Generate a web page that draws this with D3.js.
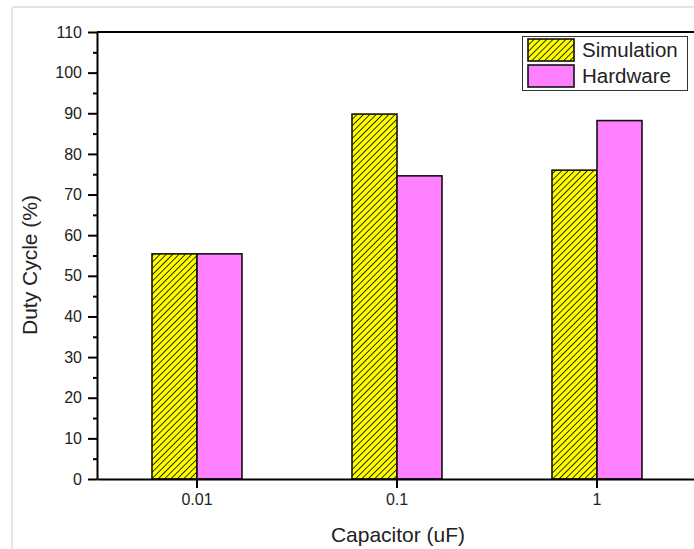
<!DOCTYPE html>
<html>
<head>
<meta charset="utf-8">
<script src="https://cdn.jsdelivr.net/npm/d3@7"></script>
<style>
  body { margin: 0; background: #fff; }
  svg { display: block; font-family: Arial, "Liberation Sans", sans-serif; }
</style>
</head>
<body>
<svg id="chart"></svg>
<script>
// chart data
var categories = ['0.01', '0.1', '1'];
var seriesNames = ['Simulation', 'Hardware'];
var simulation = [55.4, 89.8, 76.0];
var hardware = [55.4, 74.6, 88.2];
var yTicks = [0, 10, 20, 30, 40, 50, 60, 70, 80, 90, 100, 110];

(function () {
    var width = 694, height = 549;
    var left = 97, top = 32, right = 697, bottom = 479;
    var font = 'Arial, "Liberation Sans", sans-serif';

    var svg = d3.select('#chart')
        .attr('width', width)
        .attr('height', height);

    var defs = svg.append('defs');
    var hatch = defs.append('pattern')
        .attr('id', 'hatch')
        .attr('patternUnits', 'userSpaceOnUse')
        .attr('width', 4.5)
        .attr('height', 4.5)
        .attr('patternTransform', 'rotate(45)');
    hatch.append('rect').attr('width', 4.5).attr('height', 4.5).attr('fill', '#ffff00');
    hatch.append('line')
        .attr('x1', 0).attr('y1', 0).attr('x2', 0).attr('y2', 4.5)
        .attr('stroke', '#000').attr('stroke-width', 1.6);

    // light frame around the picture
    svg.append('line').attr('x1', 12).attr('y1', 7).attr('x2', width).attr('y2', 7)
        .attr('stroke', '#e4e4e4').attr('stroke-width', 2);
    svg.append('line').attr('x1', 12).attr('y1', 7).attr('x2', 12).attr('y2', height)
        .attr('stroke', '#e4e4e4').attr('stroke-width', 2);

    var x = d3.scaleBand().domain(categories).range([left, right]);
    var y = d3.scaleLinear().domain([0, 110]).range([bottom, top]);
    var barW = 45;

    var rows = categories.map(function (c, i) {
        return { cat: c, values: [simulation[i], hardware[i]] };
    });
    var fills = ['url(#hatch)', '#ff80ff'];

    var groups = svg.selectAll('.cat')
        .data(rows)
        .enter().append('g')
            .attr('class', 'cat');

    groups.selectAll('rect')
        .data(function (d) { return d.values.map(function (v, j) { return { cat: d.cat, v: v, j: j }; }); })
        .enter().append('rect')
            .attr('x', function (d) { return x(d.cat) + x.bandwidth() / 2 + (d.j - 1) * barW; })
            .attr('y', function (d) { return y(d.v); })
            .attr('width', barW)
            .attr('height', function (d) { return y(0) - y(d.v); })
            .attr('fill', function (d) { return fills[d.j]; })
            .attr('stroke', '#111')
            .attr('stroke-width', 1.6);

    // y axis with minor ticks
    var minor = d3.range(5, 110, 10);
    svg.append('g')
        .attr('transform', 'translate(' + left + ',0)')
        .call(d3.axisLeft(y).tickValues(minor).tickSize(4).tickFormat(''))
        .call(function (g) { g.select('.domain').remove(); g.selectAll('line').attr('stroke', '#000').attr('stroke-width', 2); });

    var yAxis = svg.append('g')
        .attr('transform', 'translate(' + left + ',0)')
        .call(d3.axisLeft(y).tickValues(yTicks).tickSize(9).tickPadding(6).tickSizeOuter(0));
    yAxis.select('.domain').attr('stroke', '#000').attr('stroke-width', 2);
    yAxis.selectAll('line').attr('stroke', '#000').attr('stroke-width', 2);
    yAxis.selectAll('text').attr('font-size', 16).attr('fill', '#222').attr('font-family', font);

    var xAxis = svg.append('g')
        .attr('transform', 'translate(0,' + bottom + ')')
        .call(d3.axisBottom(x).tickSize(9).tickPadding(6).tickSizeOuter(0));
    xAxis.select('.domain').attr('stroke', '#000').attr('stroke-width', 2);
    xAxis.selectAll('line').attr('stroke', '#000').attr('stroke-width', 2);
    xAxis.selectAll('text').attr('font-size', 16).attr('fill', '#222').attr('font-family', font);

    // top frame line
    svg.append('line').attr('x1', left).attr('y1', top).attr('x2', width).attr('y2', top)
        .attr('stroke', '#000').attr('stroke-width', 2);

    // axis titles
    svg.append('text')
        .attr('x', 398).attr('y', 542)
        .attr('text-anchor', 'middle')
        .attr('font-size', 21).attr('fill', '#222')
        .text('Capacitor (uF)');
    svg.append('text')
        .attr('transform', 'translate(37,265) rotate(-90)')
        .attr('text-anchor', 'middle')
        .attr('font-size', 21).attr('fill', '#222')
        .text('Duty Cycle (%)');

    // legend
    var legend = svg.append('g');
    legend.append('rect')
        .attr('x', 522.5).attr('y', 36.5).attr('width', 165).attr('height', 54)
        .attr('fill', '#fff').attr('stroke', '#333').attr('stroke-width', 1);
    var item = legend.selectAll('.item')
        .data(seriesNames)
        .enter().append('g')
            .attr('class', 'item')
            .attr('transform', function (d, i) { return 'translate(0,' + (i * 26) + ')'; });
    item.append('rect')
        .attr('x', 528).attr('y', 39).attr('width', 46).attr('height', 22)
        .attr('fill', function (d, i) { return fills[i]; })
        .attr('stroke', '#111').attr('stroke-width', 1.6);
    item.append('text')
        .attr('x', 582).attr('y', 57)
        .attr('font-size', 20.5).attr('fill', '#222')
        .text(function (d) { return d; });
}());
</script>
</body>
</html>
